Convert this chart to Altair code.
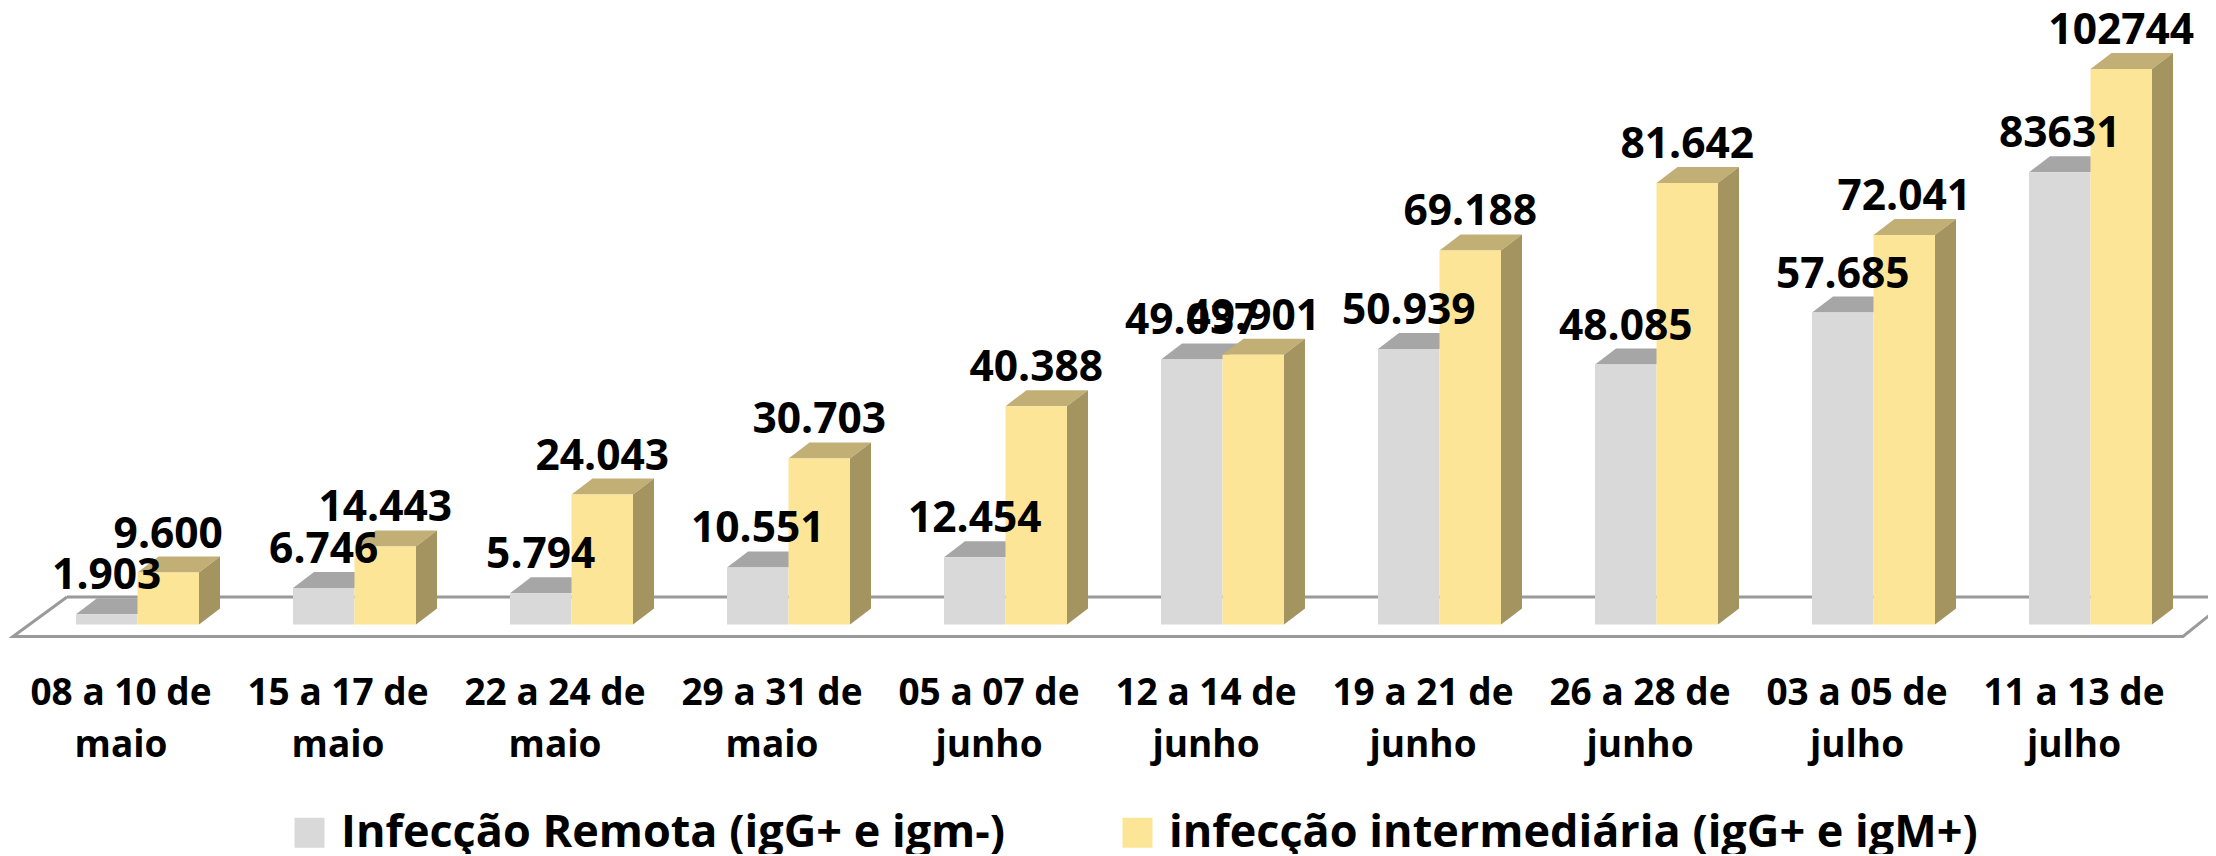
import altair as alt
import pandas as pd

periods = ["08 a 10 de\nmaio", "15 a 17 de\nmaio", "22 a 24 de\nmaio", "29 a 31 de\nmaio",
           "05 a 07 de\njunho", "12 a 14 de\njunho", "19 a 21 de\njunho", "26 a 28 de\njunho",
           "03 a 05 de\njulho", "11 a 13 de\njulho"]
remota = [1903, 6746, 5794, 10551, 12454, 49037, 50939, 48085, 57685, 83631]
intermediaria = [9600, 14443, 24043, 30703, 40388, 49901, 69188, 81642, 72041, 102744]
remota_txt = ["1.903", "6.746", "5.794", "10.551", "12.454", "49.037", "50.939", "48.085", "57.685", "83631"]
inter_txt = ["9.600", "14.443", "24.043", "30.703", "40.388", "49.901", "69.188", "81.642", "72.041", "102744"]
series = ["Infecção Remota (igG+ e igm-)", "infecção intermediária (igG+ e igM+)"]

FONT = "Open Sans"
W, H = 2200, 846
PITCH = 217.0              # px per category
PX_PER_UNIT = 555.5 / 102744
X0_PAGE, Y0_PAGE = 137.5, 624.5  # page position of first category boundary / of value 0

x_dom = [(8 - X0_PAGE) / PITCH, (8 + W - X0_PAGE) / PITCH]
y_dom = [(Y0_PAGE - (8 + H)) / PX_PER_UNIT, (Y0_PAGE - 8) / PX_PER_UNIT]
xs = alt.Scale(domain=x_dom, nice=False, zero=False)
ys = alt.Scale(domain=y_dom, nice=False, zero=False)

BW = 61.5 / PITCH
DX = 21 / PITCH
DY = 16 / PX_PER_UNIT

bars, tops, sides, labels = [], [], [], []
for s, (name, vals, txts, off) in enumerate(zip(series, [remota, intermediaria], [remota_txt, inter_txt], [-BW, 0])):
    for i, (v, t) in enumerate(zip(vals, txts)):
        L, R = i + off, i + off + BW
        bars.append(dict(series=name, x=L, x2=R, y=v, y2=0))
        labels.append(dict(x=(L + R) / 2, y=v + DY, t=t))
        tops += [dict(p=f"{s}-{i}", s=name, x=L, y=v, y2=v),
                 dict(p=f"{s}-{i}", s=name, x=L + DX, y=v, y2=v + DY),
                 dict(p=f"{s}-{i}", s=name, x=R, y=v, y2=v + DY),
                 dict(p=f"{s}-{i}", s=name, x=R + DX, y=v + DY, y2=v + DY)]
        if s == 1:
            sides += [dict(p=f"{i}", x=R, y=0, y2=v), dict(p=f"{i}", x=R + DX, y=DY, y2=v + DY)]

bars, tops, sides, labels = map(pd.DataFrame, (bars, tops, sides, labels))

floor_front = -12 / PX_PER_UNIT
floor_back = 27.5 / PX_PER_UNIT
floor = pd.DataFrame([
    dict(o=0, x=(67 - X0_PAGE) / PITCH, y=floor_back),
    dict(o=1, x=(13 - X0_PAGE) / PITCH, y=floor_front),
    dict(o=2, x=(2183 - X0_PAGE) / PITCH, y=floor_front),
    dict(o=3, x=(2232 - X0_PAGE) / PITCH, y=floor_back),
    dict(o=4, x=(67 - X0_PAGE) / PITCH, y=floor_back),
])
cats = pd.DataFrame(dict(x=[i - 16.5 / PITCH for i in range(len(periods))], t=periods,
                         y=[(Y0_PAGE - 705) / PX_PER_UNIT] * len(periods)))

X = alt.X("x:Q", scale=xs, axis=None)
Y = alt.Y("y:Q", scale=ys, axis=None, stack=None)

floor_l = alt.Chart(floor).mark_line(color="#9a9a9a", strokeWidth=3, clip=True).encode(X, Y, order="o:Q")

def faces(df, color):
    return alt.Chart(df).mark_area(color=color, line=False, opacity=1).encode(X, Y, y2="y2:Q", detail="p:N")

top_g = faces(tops[tops.s == series[0]], "#A6A6A6")
top_y = faces(tops[tops.s == series[1]], "#C1AF76")
side_y = faces(sides, "#A39460")

front = alt.Chart(bars).mark_bar().encode(
    X, alt.X2("x2:Q"), Y, alt.Y2("y2:Q"),
    color=alt.Color("series:N", scale=alt.Scale(domain=series, range=["#D9D9D9", "#FDE598"]),
                    legend=alt.Legend(orient="none", legendX=279, legendY=802, direction="horizontal",
                                      columns=2, title=None, symbolType="square", symbolSize=900,
                                      symbolStrokeWidth=0, labelFont=FONT, labelFontWeight="bold",
                                      labelFontSize=45, labelColor="#000000", labelLimit=1000,
                                      labelOffset=9, columnPadding=110)),
)

val = alt.Chart(labels).mark_text(font=FONT, fontWeight="bold", fontSize=42.5, color="#000000",
                                  baseline="alphabetic", dy=-9).encode(X, Y, text="t:N")
cat = alt.Chart(cats).mark_text(font=FONT, fontWeight="bold", fontSize=37, color="#000000",
                                baseline="alphabetic", lineBreak="\n", lineHeight=52).encode(X, Y, text="t:N")

chart = alt.layer(floor_l, top_g, top_y, side_y, front, val, cat).properties(
    width=W, height=H, padding=0, autosize=alt.AutoSizeParams(type="none")
).configure_view(stroke=None)

chart.save("out.html", embed_options={"renderer": "svg", "actions": False})
